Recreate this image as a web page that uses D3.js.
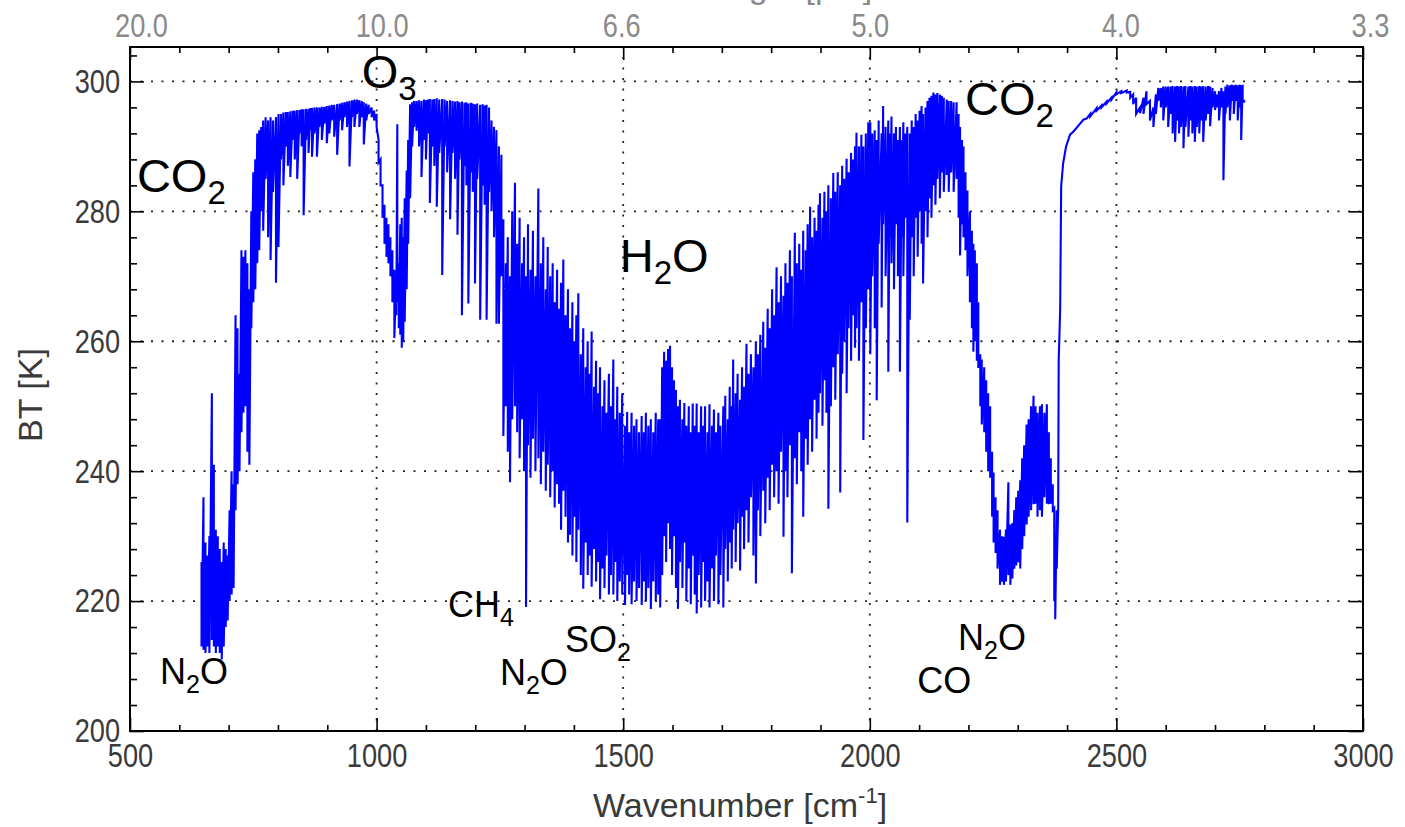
<!DOCTYPE html>
<html>
<head>
<meta charset="utf-8">
<script src="https://cdn.jsdelivr.net/npm/d3@7"></script>
<style>
body { margin: 0; background: #fff; }
svg { display: block; }
</style>
</head>
<body>
<script>
/**
 * Brightness temperature spectrum, 500 - 3000 cm-1.
 * Each spectral row is [wavenumber, upper BT, lower BT];
 * the line runs from the upper to the lower value of each row.
 */

// 15 um CO2 band with the N2O feature at the bottom
var co2Band = [
    [645, 226, 213], [649, 236, 212.5], [653, 229, 212], [657, 227, 213],
    [661, 230, 212], [666, 252, 214], [670, 241, 213], [674, 231, 212],
    [678, 230, 213], [682, 228, 212], [686, 226, 211], [690, 229, 213],
    [694, 228, 216], [698, 227, 217], [702, 234, 220], [706, 240, 221],
    [710, 238, 222], [714, 264, 234], [718, 262, 238], [722, 255, 240],
    [726, 274, 246], [730, 273, 249], [734, 274, 250], [738, 272, 243],
    [742, 268, 241], [746, 280, 262], [750, 286, 266], [754, 288, 268],
    [758, 292, 272], [762, 292.5, 274]
];

// long wave window
var lwWindow = [
    [766, 293, 280], [770, 294, 277], [775, 294.5, 285], [780, 294, 276],
    [785, 294.5, 272.5], [790, 294, 283], [796, 294.5, 269], [801, 295, 274.5],
    [806, 295, 288], [811, 295.2, 284], [816, 295.3, 290], [820, 295.3, 287],
    [825, 295.4, 285.3], [830, 295.5, 291], [834, 295.5, 288], [839, 295.6, 285],
    [844, 295.6, 292], [848, 295.7, 290], [852, 295.7, 279.4], [857, 295.8, 291],
    [862, 295.8, 289], [866, 295.9, 292.5], [869, 295.9, 288.4], [874, 296, 292],
    [879, 296, 288.4], [884, 296, 293], [889, 296.1, 291], [894, 296.1, 293.5],
    [899, 296.2, 290.5], [904, 296.3, 292], [909, 296.4, 294], [914, 296.4, 291.5],
    [920, 296.5, 288.7], [925, 296.6, 294], [930, 296.7, 292.5], [935, 296.8, 294.5],
    [940, 296.9, 293], [945, 297, 286.9], [950, 297.1, 294.5], [955, 297.2, 293],
    [960, 297.2, 295], [965, 297.1, 293], [970, 297, 294.5], [974, 296.8, 290.3],
    [979, 296.6, 294], [984, 296.4, 295], [990, 296, 294.5], [995, 295.5, 294]
];

// 9.6 um ozone band
var o3Band = [
    [1000, 295, 293], [1004, 291, 287.5], [1008, 288, 284], [1012, 284, 279],
    [1016, 281, 275], [1020, 279, 273], [1024, 278, 272], [1028, 276, 270],
    [1032, 274, 266], [1036, 271, 260.5], [1040, 270, 264], [1042, 293.4, 266],
    [1045, 272, 262], [1048, 278, 261], [1051, 279, 259], [1054, 276, 260],
    [1057, 282, 263], [1061, 286.3, 268], [1064, 291, 275], [1068, 296.5, 282]
];

// window between ozone and water vapour
var midWindow = [
    [1072, 296.8, 290], [1076, 297, 293], [1081, 297, 292.4], [1086, 297.1, 290],
    [1091, 297, 285.3], [1096, 297.2, 291], [1100, 297.1, 288], [1104, 297.2, 292],
    [1108, 297.3, 281.3], [1113, 297.2, 290], [1117, 297.3, 287], [1122, 297.4, 280.7],
    [1127, 297.2, 289], [1133, 297.3, 270.2], [1138, 297.2, 290], [1143, 297, 286],
    [1149, 297.1, 278.8], [1154, 297, 289], [1159, 296.9, 285], [1164, 297, 276.4],
    [1168, 296.8, 288], [1173, 296.9, 264], [1178, 296.7, 287], [1182, 296.8, 284],
    [1186, 296.6, 265.8], [1191, 296.7, 286], [1195, 296.6, 283], [1199.5, 296.5, 268.9],
    [1204, 296.6, 285], [1210, 296.4, 263.3], [1215, 296.5, 284], [1219, 296.3, 281],
    [1223, 296.4, 263.3], [1228, 296, 283], [1233, 294, 280], [1238, 293, 276],
    [1243, 292.5, 262.7], [1248, 290, 262.7], [1253, 288.7, 270]
];

// 6.3 um water vapour band, falling side (CH4, N2O, SO2 lines)
var h2oFall = [
    [1257, 278.8, 245.4], [1262, 272, 250], [1266, 276, 243], [1270.5, 270, 238.3],
    [1275, 280, 248], [1280.6, 284.4, 250], [1285, 275, 246], [1290, 279, 242],
    [1295, 272, 248], [1299, 276, 240], [1303, 270, 219.1], [1307, 278, 244],
    [1312, 271, 239], [1317, 277, 245], [1322, 270, 240], [1328, 283.5, 242],
    [1333, 272, 238], [1338, 276, 243], [1343, 268, 237], [1347, 274.5, 241],
    [1352, 270, 236], [1357, 272, 240], [1361, 266, 234.4], [1366, 271, 238],
    [1370, 265, 235], [1374, 269, 231], [1378.6, 272.6, 237], [1383, 264, 233],
    [1388, 268, 229], [1392, 262, 230.2], [1397, 266, 227], [1401, 260, 233],
    [1405, 264, 226], [1409, 267.4, 231], [1414, 258, 224], [1419, 262, 221.9],
    [1424, 256, 229], [1428, 260, 224], [1432, 255, 227], [1436, 261.5, 222.2],
    [1441, 253, 228], [1445, 257, 223], [1449, 252, 226], [1453, 256, 220.3],
    [1458, 250, 225], [1462, 254, 222], [1466, 249, 227], [1471, 255, 221],
    [1475, 250, 224], [1480, 257.2, 221], [1484, 248, 226], [1488, 253, 220],
    [1493, 249, 223], [1498, 252, 221], [1503.7, 247, 219.4], [1508, 249.1, 224],
    [1512, 246, 221], [1517, 249, 219.5], [1522, 247, 223], [1527, 248, 220],
    [1532, 246, 222], [1537.5, 248.5, 219.4], [1542, 246, 223], [1546, 249, 220],
    [1551, 247, 222], [1556, 248, 218.8], [1561, 246, 223], [1566, 249, 220],
    [1571, 248, 221], [1575, 248, 219]
];

// water vapour band, rising side
var h2oRise = [
    [1579, 256, 224], [1583, 258.4, 230], [1587, 257, 226], [1591, 258.8, 232],
    [1595, 259.3, 228], [1599, 256, 224], [1603, 254, 230], [1607, 252.5, 222],
    [1611, 250, 218.8], [1615, 251, 226], [1620, 248, 222], [1624, 250.5, 229],
    [1628, 247, 220], [1633, 250, 225], [1637, 246, 219.5], [1641, 250.4, 227],
    [1645, 247, 221], [1649, 250.4, 218.1], [1653, 246, 224], [1658, 250, 219],
    [1662, 247, 226], [1666, 250, 220], [1671, 246, 223], [1675, 250.3, 219],
    [1680, 247, 225], [1684, 249.5, 220], [1688, 246, 227], [1693, 249, 219.5],
    [1697, 247, 224], [1703, 250, 219], [1707, 251.6, 228], [1712, 248, 223],
    [1716, 253, 229], [1720, 250, 225], [1723, 257.2, 231], [1728, 252, 226],
    [1732, 255, 232], [1737, 251, 224.7], [1741, 256, 233], [1745, 253, 228],
    [1750, 259.6, 234], [1754, 255, 229], [1759, 258, 236], [1764, 256, 227],
    [1769, 260, 222.7], [1773, 258, 234], [1778, 261, 230], [1784, 263, 237],
    [1788, 259, 232], [1793, 265, 239], [1797, 262, 234], [1802, 268, 241],
    [1806, 264, 236], [1811, 271.4, 240], [1815, 266, 235], [1820, 270, 243],
    [1825, 267, 229.9], [1829, 272, 240], [1833, 269, 236], [1838, 274, 244],
    [1842, 270, 224.3], [1848, 276.7, 242], [1852, 272, 238], [1857, 275, 246],
    [1861, 271, 240], [1865, 277, 233], [1870, 274, 245], [1874, 278, 241],
    [1879, 280.7, 248], [1883, 276, 243], [1888, 279, 251], [1892, 277, 245],
    [1896, 281, 249], [1899, 282.8, 252], [1904, 279, 247], [1908, 283, 254],
    [1912, 280, 249], [1916, 284, 234.2], [1921, 282, 250], [1926, 285.9, 256],
    [1930, 283, 251], [1935, 286, 258], [1940, 284, 236.7], [1944, 287, 255],
    [1948, 285, 260], [1953, 288.1, 252], [1957, 286, 262], [1962, 289, 257],
    [1966, 288, 264], [1970, 290, 259], [1973, 292.1, 262], [1978, 290, 257],
    [1983, 291.8, 266], [1987, 290, 244.8], [1992, 292, 262], [1997, 293.7, 268]
];

// 5 um window with the CO lines
var coWindow = [
    [2001, 293.7, 258], [2005, 292, 270], [2010, 292.5, 262], [2014, 291, 250.9],
    [2018, 294, 275], [2024, 292, 265.2], [2027, 296.2, 278], [2032, 293, 270],
    [2037.5, 294, 255.3], [2041, 292, 276], [2044, 294.6, 272], [2049, 292, 268],
    [2053, 293, 278], [2057, 291, 270], [2061, 293, 255.3], [2065, 291, 276],
    [2068, 293.7, 270], [2072, 292, 279], [2076, 293, 232.1], [2081, 292, 263.3],
    [2085, 294, 276], [2089, 293, 270], [2093, 295, 279], [2097, 294, 273],
    [2101, 295.5, 280], [2105, 296.2, 275], [2108, 295, 268.9], [2113, 296, 280],
    [2117, 297, 276], [2121, 297.5, 282], [2125, 297.8, 279], [2129, 298.3, 284],
    [2133, 298, 281], [2137, 298.2, 285], [2142, 298, 282], [2146, 297.8, 286],
    [2150, 297.5, 283], [2156, 297.2, 285.6], [2160, 297, 283], [2165, 297, 286],
    [2170, 296.8, 283], [2176, 296.8, 285], [2180, 295, 279], [2183, 293, 273.2],
    [2187, 291, 278], [2190, 290, 276]
];

// 4.3 um CO2 band edge and the N2O hump
var co2Edge = [
    [2194, 286, 274], [2198, 283.2, 270], [2203, 280, 266], [2207, 277, 262],
    [2210, 275, 258.4], [2213, 274, 260], [2217, 272, 257], [2220, 266, 255.9],
    [2224, 258, 250], [2227, 257.2, 247.2], [2232, 256, 246], [2236, 254, 243],
    [2240, 252, 240], [2244, 250, 239], [2248, 243, 233], [2251, 239.8, 229],
    [2255, 236, 227.4], [2259, 234, 225], [2264, 231, 222.5], [2268, 230, 223],
    [2272, 229.9, 222.5], [2276, 231, 223], [2281, 238.3, 224], [2285, 231.8, 222.5],
    [2289, 232, 223.5], [2293, 234, 225], [2297, 236, 225.5], [2301, 237, 226],
    [2305, 238.6, 225], [2309, 242, 228], [2313, 244, 230], [2318, 247.2, 231.8],
    [2322, 248, 233], [2327, 250, 234], [2332, 251.6, 234.9], [2336, 250, 235],
    [2340, 249, 233], [2345, 250, 234], [2349, 250.3, 233], [2354, 249, 236],
    [2359, 250.3, 235], [2363, 246, 234.9], [2367, 242, 235], [2371, 238, 234],
    [2374, 234.3, 220], [2376, 230, 217.2], [2379, 234, 225], [2382, 234.3, 234.3]
];

// short wave window
var swWindow = [
    [2383, 257, 257], [2386, 265, 265], [2388, 283.8, 283.8], [2392, 287.4, 287.4],
    [2398, 290, 290], [2406, 291.8, 291.8], [2413, 292.3, 292.3], [2423, 293.2, 293.2],
    [2433, 294.1, 294.1], [2440, 294.3, 294.3], [2447, 295, 294.6], [2460, 295.9, 295.5],
    [2470, 296.3, 296], [2480, 296.9, 296.6], [2490, 297.5, 297.2], [2500, 298.3, 298],
    [2510, 298.5, 298.2], [2521, 298.6, 298.3], [2528, 298.4, 297.5], [2534, 298, 296.5],
    [2540, 297.5, 295], [2548, 296, 295.1], [2555, 297.5, 295], [2561, 298.5, 296.5],
    [2568, 297, 294], [2575, 296, 293], [2580, 298, 295], [2585, 299, 297],
    [2590, 299, 296], [2595, 299.2, 294], [2600, 299.2, 296], [2605, 299.2, 293],
    [2610, 299.2, 295], [2614, 299.3, 292], [2619, 299.2, 290.7], [2623, 299.3, 294],
    [2627, 299.2, 292], [2631, 299.3, 293], [2636, 299.2, 289.7], [2640, 299.3, 293],
    [2646, 299.2, 291.5], [2650, 299.3, 294], [2654, 299.2, 292], [2659, 299.3, 290.7],
    [2663, 299.2, 293], [2668, 299.3, 292], [2672, 299.2, 294], [2676, 299.3, 290.7],
    [2681, 299.2, 294], [2686, 299.3, 295], [2690, 299.2, 293.1], [2695, 299, 296],
    [2700, 298.5, 295.6], [2704, 298, 296], [2708, 298.5, 294], [2713, 299, 296],
    [2717, 298.5, 284.8], [2721, 299.2, 295], [2725, 299.5, 296], [2730, 299.4, 294],
    [2734, 299.5, 297], [2738, 299.4, 295], [2742, 299.5, 297], [2746, 299.4, 294],
    [2750, 299.5, 296], [2753, 299.4, 291], [2756, 299.5, 297], [2759, 297, 296.7]
];

// axes
var xMajor = [500, 1000, 1500, 2000, 2500, 3000];
var yMajor = [200, 220, 240, 260, 280, 300];
var wavelengthLabels = ['20.0', '10.0', '6.6', '5.0', '4.0', '3.3'];

// gas labels: [text, subscript, text after subscript, wavenumber, BT]
var bigLabels = [
    ['CO', '2', '', 514, 283.0],
    ['O', '3', '', 970, 299.0],
    ['H', '2', 'O', 1493, 270.7],
    ['CO', '2', '', 2193, 294.9]
];
var smallLabels = [
    ['CH', '4', '', 1145, 217.6],
    ['N', '2', 'O', 1250, 207.1],
    ['SO', '2', '', 1382, 212.2],
    ['N', '2', 'O', 561, 207.3],
    ['N', '2', 'O', 2179, 212.5],
    ['CO', '', '', 2096, 205.9]
];

var width = 1405, height = 827;
var margin = {top: 47, right: 42, bottom: 96, left: 130};
var font = '"Liberation Sans", Arial, Helvetica, sans-serif';
// tick numbers in the original are set in a narrow face
var tickSqueeze = 0.8;
// small horizontal nudges of the wavelength labels, as placed in the original
var topLabelShift = [11, 5, -2, 0, 4, 7];

var x = d3.scaleLinear().domain([500, 3000])
    .range([margin.left, width - margin.right]);
var y = d3.scaleLinear().domain([200, 305.3])
    .range([height - margin.bottom, margin.top]);

var svg = d3.select('body')
    .append('svg')
    .attr('width', width)
    .attr('height', height)
    .style('font-family', font);

// dotted grid
var grid = svg.append('g')
    .attr('stroke', '#222')
    .attr('stroke-width', 1.8)
    .attr('stroke-dasharray', '2,8.5');

grid.selectAll('line.gx')
    .data(xMajor.slice(1, -1))
    .enter().append('line')
    .attr('class', 'gx')
    .attr('x1', function(d) { return x(d); })
    .attr('x2', function(d) { return x(d); })
    .attr('y1', y.range()[0])
    .attr('y2', y.range()[1]);

grid.selectAll('line.gy')
    .data(yMajor.slice(1))
    .enter().append('line')
    .attr('class', 'gy')
    .attr('x1', x.range()[0])
    .attr('x2', x.range()[1])
    .attr('y1', function(d) { return y(d); })
    .attr('y2', function(d) { return y(d); });

// spectrum
var rows = [].concat(co2Band, lwWindow, o3Band, midWindow, h2oFall, h2oRise,
                     coWindow, co2Edge, swWindow);
var points = [];
rows.forEach(function(d) {
    points.push([d[0], d[1]]);
    if (d[2] !== d[1])
        points.push([d[0], d[2]]);
});

var line = d3.line()
    .x(function(d) { return x(d[0]); })
    .y(function(d) { return y(d[1]); });

svg.append('path')
    .datum(points)
    .attr('fill', 'none')
    .attr('stroke', '#0000ff')
    .attr('stroke-width', 2.1)
    .attr('stroke-linejoin', 'miter')
    .attr('d', line);

// axes, ticks pointing inwards
var styleAxis = function(g, color) {
    g.select('.domain').remove();
    g.selectAll('.tick line').attr('stroke', '#000').attr('stroke-width', 1.6);
    g.selectAll('.tick text')
        .attr('fill', color)
        .attr('font-size', 34)
        .attr('transform', 'scale(' + tickSqueeze + ',1)');
};

var xMinor = d3.range(500, 3001, 100).filter(function(d) { return d % 500; });
var yMinor = d3.range(200, 305, 4).filter(function(d) { return d % 20; });
var bottomY = height - margin.bottom;
var rightX = width - margin.right;

svg.append('g')
    .attr('transform', 'translate(0,' + bottomY + ')')
    .call(d3.axisBottom(x).tickValues(xMinor).tickSize(-6).tickFormat(''))
    .call(styleAxis, '#000');
svg.append('g')
    .attr('transform', 'translate(0,' + bottomY + ')')
    .call(d3.axisBottom(x).tickValues(xMajor).tickSize(-13).tickPadding(12)
        .tickFormat(d3.format('d')))
    .call(styleAxis, '#3a3a3a');

svg.append('g')
    .attr('transform', 'translate(0,' + margin.top + ')')
    .call(d3.axisTop(x).tickValues(xMinor).tickSize(-6).tickFormat(''))
    .call(styleAxis, '#000');
svg.append('g')
    .attr('transform', 'translate(0,' + margin.top + ')')
    .call(d3.axisTop(x).tickValues(xMajor).tickSize(-13).tickPadding(10)
        .tickFormat(function(d, i) { return wavelengthLabels[i]; }))
    .call(styleAxis, '#8a8a8a')
    .selectAll('.tick text')
    .attr('dx', function(d, i) { return topLabelShift[i] / tickSqueeze; });

svg.append('g')
    .attr('transform', 'translate(' + margin.left + ',0)')
    .call(d3.axisLeft(y).tickValues(yMinor).tickSize(-7).tickFormat(''))
    .call(styleAxis, '#000');
svg.append('g')
    .attr('transform', 'translate(' + margin.left + ',0)')
    .call(d3.axisLeft(y).tickValues(yMajor).tickSize(-14)
        .tickPadding(10 / tickSqueeze).tickFormat(d3.format('d')))
    .call(styleAxis, '#3a3a3a');

svg.append('g')
    .attr('transform', 'translate(' + rightX + ',0)')
    .call(d3.axisRight(y).tickValues(yMinor).tickSize(-7).tickFormat(''))
    .call(styleAxis, '#000');
svg.append('g')
    .attr('transform', 'translate(' + rightX + ',0)')
    .call(d3.axisRight(y).tickValues(yMajor).tickSize(-14).tickFormat(''))
    .call(styleAxis, '#000');

// frame
svg.append('rect')
    .attr('x', margin.left)
    .attr('y', margin.top)
    .attr('width', rightX - margin.left)
    .attr('height', bottomY - margin.top)
    .attr('fill', 'none')
    .attr('stroke', '#000')
    .attr('stroke-width', 2);

// axis titles
var xTitle = svg.append('text')
    .attr('x', 740)
    .attr('y', 817)
    .attr('text-anchor', 'middle')
    .attr('font-size', 34)
    .attr('fill', '#3a3a3a')
    .text('Wavenumber [cm');
xTitle.append('tspan').attr('font-size', 22).attr('dy', -14).text('-1');
xTitle.append('tspan').attr('dy', 14).text(']');

// top title sits mostly above the page edge in the original
svg.append('text')
    .attr('x', 745)
    .attr('y', -2)
    .attr('text-anchor', 'middle')
    .attr('font-size', 34)
    .attr('fill', '#8a8a8a')
    .text('Wavelength [\u00b5m]');

svg.append('text')
    .attr('transform', 'translate(42,395) rotate(-90)')
    .attr('text-anchor', 'middle')
    .attr('font-size', 34)
    .attr('fill', '#3a3a3a')
    .text('BT [K]');

// gas labels with subscripts
var drawLabels = function(data, size) {
    var shift = Math.round(size * 0.26);
    var t = svg.selectAll(null)
        .data(data)
        .enter().append('text')
        .attr('x', function(d) { return x(d[3]); })
        .attr('y', function(d) { return y(d[4]); })
        .attr('font-size', size)
        .attr('fill', '#000');

    t.append('tspan').text(function(d) { return d[0]; });
    t.append('tspan')
        .attr('font-size', Math.round(size * 0.7))
        .attr('dy', function(d) { return d[1] ? shift : 0; })
        .text(function(d) { return d[1]; });
    t.append('tspan')
        .attr('dy', function(d) { return d[1] ? -shift : 0; })
        .text(function(d) { return d[2]; });
};

drawLabels(bigLabels, 47);
drawLabels(smallLabels, 36);
</script>
</body>
</html>
